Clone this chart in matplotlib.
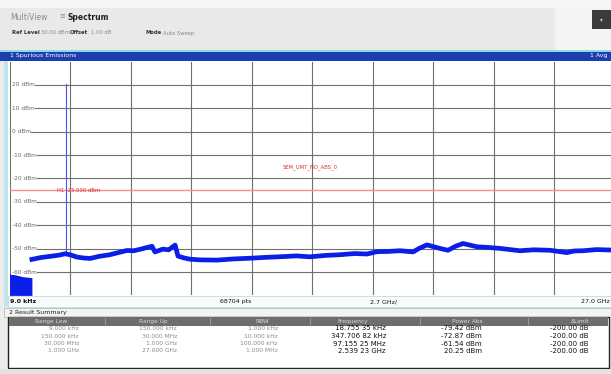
import numpy as np
import matplotlib.pyplot as plt
from matplotlib.patches import Rectangle

# Dane widma (GHz, dBm)
freq_ghz = [1.00, 1.40, 1.81, 2.20, 2.48, 2.70, 3.01, 3.30, 3.59, 4.00, 4.48, 4.90,
            5.24, 5.55, 5.82, 6.10, 6.36, 6.49, 6.85, 7.10, 7.39, 7.52, 7.80, 8.05,
            8.50, 9.26, 10.00, 10.73, 11.50, 12.21, 12.80, 13.41, 14.10, 14.75,
            15.40, 15.95, 16.40, 16.90, 17.43, 18.01, 18.30, 18.63, 19.21, 19.57,
            19.90, 20.24, 20.86, 21.40, 21.89, 22.78, 23.40, 24.12, 24.88, 25.20,
            25.59, 26.20, 26.84, 27.00]
level_dbm = [-54.6, -53.8, -53.3, -52.8, -52.2, -52.6, -53.6, -54.0, -54.2, -53.3, -52.6, -51.6,
             -50.8, -50.9, -50.3, -49.6, -49.0, -51.4, -50.2, -50.5, -48.5, -53.2, -54.0, -54.5,
             -54.8, -54.9, -54.4, -54.1, -53.7, -53.4, -53.1, -53.5, -52.9, -52.6,
             -52.1, -52.3, -51.3, -51.2, -50.9, -51.4, -49.8, -48.4, -49.9, -50.7,
             -49.0, -47.8, -49.2, -49.5, -49.9, -50.9, -50.5, -50.7, -51.7, -51.0,
             -50.9, -50.4, -50.6, -50.6]

# pasmo 9 kHz - 1 GHz (gęsty szum)
low_band_ghz = [0.0, 0.3, 0.6, 1.0]
low_band_top = [-60.6, -61.3, -62.0, -62.4]

spike_ghz = 2.53923
spike_dbm = 20.25
limit_dbm = -25.0

y_ticks = [20, 10, 0, -10, -20, -30, -40, -50, -60]

# Tabela wyników
col_headers = ['Range Low', 'Range Up', 'RBW', 'Frequency', 'Power Abs', '\u0394Limit']
range_low = ['9.000 kHz', '150.000 kHz', '30.000 MHz', '1.000 GHz']
range_up = ['150.000 kHz', '30.000 MHz', '1.000 GHz', '27.000 GHz']
rbw = ['1.000 kHz', '10.000 kHz', '100.000 kHz', '1.000 MHz']
peak_freq = ['18.755 35 kHz', '347.706 82 kHz', '97.155 25 MHz', '2.539 23 GHz']
power_abs = ['-79.42 dBm', '-72.87 dBm', '-61.54 dBm', '20.25 dBm']
delta_limit = ['-200.00 dB', '-200.00 dB', '-200.00 dB', '-200.00 dB']

W, H = 611, 374
fig = plt.figure(figsize=(W / 100, H / 100), dpi=100)
fig.patch.set_facecolor('#ececec')


def fx(x):
    return x / W


def fy(y):
    return 1 - y / H


def box(x0, y0, x1, y1, fc, ec='none', lw=0.6, z=-1):
    fig.patches.append(Rectangle((fx(x0), fy(y1)), fx(x1) - fx(x0), fy(y0) - fy(y1),
                                 transform=fig.transFigure, fc=fc, ec=ec, lw=lw, zorder=z))


def txt(x, y, s, **kw):
    fig.text(fx(x), fy(y), s, va='center', zorder=5, **kw)


# Pasek górny
box(0, 0, W, 8, '#f6f6f6')
box(0, 8, 555, 50, '#e9e9e9')
box(555, 8, W, 50, '#f4f4f4')
box(592, 10, W, 29, '#3b3b3b')
txt(601, 20, '\u25be', color='#cccccc', fontsize=4, ha='center')
txt(10, 17, 'MultiView', color='#8a8a8a', fontsize=5.5)
txt(59, 16, '\u2261', color='#8a8a8a', fontsize=5)
txt(68, 17, 'Spectrum', color='#222222', fontsize=5.5, fontweight='bold')
txt(12, 33, 'Ref Level', color='#333333', fontsize=3.8, fontweight='bold')
txt(41, 33, '30.00 dBm', color='#8a8a8a', fontsize=3.8)
txt(70, 33, 'Offset', color='#333333', fontsize=3.8, fontweight='bold')
txt(91, 33, '1.00 dB', color='#8a8a8a', fontsize=3.8)
txt(145, 33, 'Mode', color='#333333', fontsize=3.8, fontweight='bold')
txt(163, 33, 'Auto Sweep', color='#8a8a8a', fontsize=3.8)

# Pasek tytułowy
box(0, 50, W, 51.5, '#8fd8e6')
box(0, 51.5, W, 60.5, '#1b3fae')
txt(10, 56, '1 Spurious Emissions', color='white', fontsize=4.5)
txt(607, 56, '1 Avg', color='white', fontsize=4.5, ha='right')

# Obszar wykresu
box(4, 60.5, W, 307, 'white')
box(4, 60.5, 8, 307, '#bfe6ef')
ax = fig.add_axes([fx(9.5), fy(295.4), fx(605), fy(61.6) - fy(295.4)])
ax.set_zorder(2)
ax.set_facecolor('white')
ax.set_xlim(0.000009, 27.0)
ax.set_ylim(-70, 30)
ax.set_xticks(np.arange(0, 28, 2.7))
ax.set_yticks(y_ticks)
ax.grid(True, color='#6f6f6f', lw=0.8)
ax.tick_params(length=0, labelbottom=False, labelleft=False)
for s in ax.spines.values():
    s.set_visible(False)

ax.axhline(limit_dbm, color='#f09090', lw=1.0, zorder=3)
ax.text(3.1, limit_dbm, 'H1 -25.000 dBm', color='#e03030', fontsize=3.8,
        ha='center', va='center', zorder=4)
ax.text(13.4, -15.3, 'SEM_UMT_NO_ABS_0', color='#e03030', fontsize=3.8,
        ha='center', va='center', zorder=4)

ax.fill_between(low_band_ghz, -70, low_band_top, color='#0a1ee8', lw=0, zorder=5)
ax.plot([spike_ghz, spike_ghz], [-52.5, spike_dbm], color='#4a50f0', lw=0.8, zorder=5)
ax.plot(freq_ghz, level_dbm, color='#0a1ee8', lw=3.4, solid_joinstyle='round', zorder=6)

for v in y_ticks:
    ax.text(0.1, v, f'{v} dBm', color='#6a6a6a', fontsize=4.2, ha='left', va='center',
            zorder=7, bbox=dict(fc='white', ec='none', pad=0.3))

# Pasek osi X
box(8, 296, W, 306.5, '#fbfbfb', ec='#b8dfe8', lw=0.6, z=3)
txt(10, 301.5, '9.0 kHz', color='#111111', fontsize=4.5, fontweight='bold')
txt(220, 301.5, '68704 pts', color='#111111', fontsize=4.5)
txt(370, 301.5, '2.7 GHz/', color='#111111', fontsize=4.5)
txt(610, 301.5, '27.0 GHz', color='#111111', fontsize=4.5, ha='right')

# Podsumowanie wyników
box(4, 307.5, W, 317, '#f3f3f3', ec='#b0b0b0', lw=0.5)
txt(9, 312.5, '2 Result Summary', color='#222222', fontsize=4.5)
box(8, 317, 609, 368, 'white', ec='#222222', lw=1.0)
box(9, 317.5, 608, 325.5, '#6d6d6d')
header_x = [51, 153, 262, 353, 467, 580]
value_right = [79, 177, 278, 386, 482, 588]
for xs in [105, 210, 310, 420, 528]:
    box(xs, 318, xs + 0.8, 325, '#9a9a9a')
for hx, h in zip(header_x, col_headers):
    txt(hx, 321.5, h, color='#d8d8d8', fontsize=4.2, ha='center')

row_y = [328.5, 336, 343.5, 351]
for i, ry in enumerate(row_y):
    txt(value_right[0], ry, range_low[i], color='#8a8a8a', fontsize=4.3, ha='right')
    txt(value_right[1], ry, range_up[i], color='#8a8a8a', fontsize=4.3, ha='right')
    txt(value_right[2], ry, rbw[i], color='#8a8a8a', fontsize=4.3, ha='right')
    txt(value_right[3], ry, peak_freq[i], color='#111111', fontsize=5.0, ha='right')
    txt(value_right[4], ry, power_abs[i], color='#111111', fontsize=5.0, ha='right')
    txt(value_right[5], ry, delta_limit[i], color='#111111', fontsize=5.0, ha='right')

box(0, 369, W, H, '#e2e2e2')

fig.savefig('out.png', dpi=100, facecolor=fig.get_facecolor())
